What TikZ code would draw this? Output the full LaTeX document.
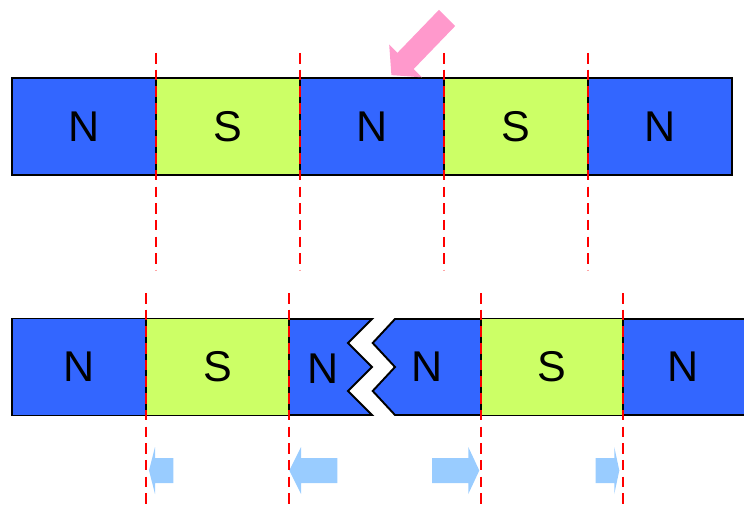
\documentclass[tikz,border=0pt]{standalone}
\usepackage{fontspec}
\setmainfont{Liberation Sans}
\definecolor{poleN}{HTML}{3366FF}
\definecolor{poleS}{HTML}{CCFF66}
\definecolor{pushpink}{HTML}{FF99CC}
\definecolor{moveblue}{HTML}{99CCFF}

\begin{document}
\begin{tikzpicture}[x=0.02cm,y=-0.02cm,
  seg/.style={draw,line width=1.1pt,rectangle,minimum height=1.94cm,inner sep=0pt,
    font=\fontsize{24.5}{29}\selectfont},
  piece/.style={draw,line width=1.1pt,line join=miter},
  lbl/.style={font=\fontsize{24.5}{29}\selectfont},
  cut/.style={red,line width=1.1pt,dash pattern=on 6pt off 3.5pt}]
\useasboundingbox (0,0) rectangle (744,510);
\clip (0,0) rectangle (744,510);
% whole magnet
\node[seg,fill=poleN,minimum width=2.88cm] (n1) at (84,126.5) {N};
\node[seg,fill=poleS,minimum width=2.88cm] (s1) at (228,126.5) {S};
\node[seg,fill=poleN,minimum width=2.88cm] (n2) at (372,126.5) {N};
\node[seg,fill=poleS,minimum width=2.88cm] (s2) at (516,126.5) {S};
\node[seg,fill=poleN,minimum width=2.88cm] (n3) at (660,126.5) {N};
% push
\fill[pushpink] (438.9,9.9) -- (455.1,26.1) -- (413.6,69.1) -- (421.8,77.3)
  -- (391.4,75.1) -- (389.2,44.7) -- (397.4,52.9) -- cycle;
% broken magnet
\node[seg,fill=poleN,minimum width=2.68cm] (bn1) at (79,367) {N};
\node[seg,fill=poleS,minimum width=2.86cm] (bs1) at (217.5,367) {S};
\draw[piece,fill=poleN] (289,319) -- (372,319) -- (348,343) -- (372,367)
  -- (348,391) -- (372,415) -- (289,415) -- cycle;
\node[lbl] (bn2) at (323,369) {N};
\draw[piece,fill=poleN] (481,319) -- (395,319) -- (372.7,343) -- (395,367)
  -- (372.7,391) -- (395,415) -- (481,415) -- cycle;
\node[lbl] (bn3) at (427,367) {N};
\node[seg,fill=poleS,minimum width=2.84cm] (bs2) at (552,367) {S};
\draw[piece,fill=poleN] (623,319) rectangle (770,415);
\node[lbl] (bn4) at (683,367) {N};
% movement
\foreach \a/\b/\c in {173.3/155/149, 337.3/301/289.3, 432/468.3/479.3, 595.7/614.3/619.3}
  \fill[moveblue] (\a,458) -- (\b,458) -- (\b,447) -- (\c,470.5) -- (\b,494)
    -- (\b,483) -- (\a,483) -- cycle;
% boundaries
\foreach \x in {156,300,444,588}
  \draw[cut] (\x,53) -- (\x,270);
\foreach \x in {146,289,481,623}
  \draw[cut] (\x,293) -- (\x,512);
\end{tikzpicture}
\end{document}
